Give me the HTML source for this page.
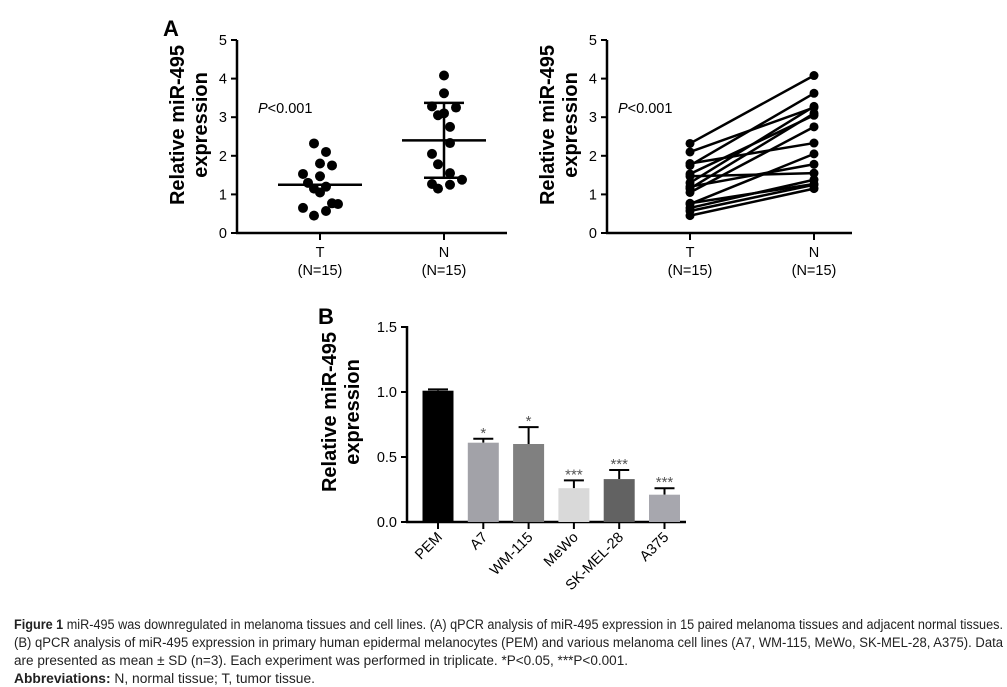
<!DOCTYPE html>
<html><head><meta charset="utf-8"><style>
html,body{margin:0;padding:0;background:#fff;}
svg{display:block;font-family:"Liberation Sans",sans-serif;}
</style></head><body>
<svg id="fig" width="1007" height="687" viewBox="0 0 1007 687"></svg>
<script>
const tVals=[2.32,2.1,1.8,1.75,1.53,1.47,1.3,1.2,1.15,1.05,0.77,0.75,0.65,0.57,0.45];
const nVals=[4.08,3.62,3.28,3.25,3.05,3.1,2.75,2.33,2.05,1.78,1.55,1.38,1.27,1.25,1.15];
const tJit=[-6,6,0,12,-17,0,-12,6,-6,0,12,18,-17,6,-6];
const nJit=[0,0,-12,12,-6,0,6,6,-12,-6,6,18,-12,6,-6];
const tMean=1.25, nMean=2.4, nSdLo=1.43, nSdHi=3.37;
const pairN=[4.08,3.25,2.33,3.62,3.05,1.55,3.28,1.78,3.1,2.75,1.27,2.05,1.38,1.25,1.15];
const yTicksA=[0,1,2,3,4,5];
const cells=["PEM","A7","WM-115","MeWo","SK-MEL-28","A375"];
const means=[1.01,0.61,0.60,0.26,0.33,0.21];
const errs=[0.01,0.03,0.13,0.06,0.07,0.05];
const stars=["","*","*","***","***","***"];
const colors=["#000000","#a2a2a8","#808080","#d9d9d9","#626262","#a7a7ae"];
const yTicksB=[0,0.5,1.0,1.5];

const svg=document.getElementById('fig');const NS='http://www.w3.org/2000/svg';
function mk(tag,attrs,name,text){const e=document.createElementNS(NS,tag);for(const k in attrs)e.setAttribute(k,attrs[k]);


if(text!==undefined)e.textContent=text;svg.appendChild(e);return e;}

function axesA(x0,x1,tx,nx,titleX,pX){
 const yA=v=>233-v*38.6;
 mk('line',{x1:x0,y1:40,x2:x0,y2:234,stroke:'#000','stroke-width':2.5},'y-axis');
 mk('line',{x1:x0-1,y1:233,x2:x1,y2:233,stroke:'#000','stroke-width':2.5},'x-axis');
 yTicksA.forEach(v=>{mk('line',{x1:x0-6,y1:yA(v),x2:x0,y2:yA(v),stroke:'#000','stroke-width':2},'y-tick');
  mk('text',{x:x0-10,y:yA(v)+5,'font-size':14.5,'text-anchor':'end'},'y-tick-label',v);});
 [[tx,'T'],[nx,'N']].forEach(([x,l])=>{mk('line',{x1:x,y1:233,x2:x,y2:240,stroke:'#000','stroke-width':2},'x-tick');
  mk('text',{x:x,y:257,'font-size':14.5,'text-anchor':'middle'},'x-tick-label',l);
  mk('text',{x:x,y:275,'font-size':14.5,'text-anchor':'middle'},'x-group-size','(N=15)');});
 mk('text',{x:0,y:0,'font-size':20,'font-weight':'bold','text-anchor':'middle',transform:`translate(${titleX},125) rotate(-90)`},'y-axis-title','Relative miR-495');
 mk('text',{x:0,y:0,'font-size':20,'font-weight':'bold','text-anchor':'middle',transform:`translate(${titleX+23},125) rotate(-90)`},'y-axis-title-2','expression');
 const p=mk('text',{x:pX,y:113,'font-size':14.5},'p-value','');
 const i=document.createElementNS(NS,'tspan');i.setAttribute('font-style','italic');i.textContent='P';p.appendChild(i);p.appendChild(document.createTextNode('<0.001'));
 return yA;
}
mk('text',{x:163,y:36,'font-size':22,'font-weight':'bold'},'panel-label-a','A');
let y=axesA(237,507,320,444,184,258);
tVals.forEach((v,i)=>mk('circle',{cx:320+tJit[i],cy:y(v),r:5},'dot-t'));
nVals.forEach((v,i)=>mk('circle',{cx:444+nJit[i],cy:y(v),r:5},'dot-n'));
mk('line',{x1:278,x2:362,y1:y(tMean),y2:y(tMean),stroke:'#000','stroke-width':2.5},'mean-t');
mk('line',{x1:402,x2:486,y1:y(nMean),y2:y(nMean),stroke:'#000','stroke-width':2.5},'mean-n');
mk('line',{x1:444,x2:444,y1:y(nSdLo),y2:y(nSdHi),stroke:'#000','stroke-width':2.5},'sd-n');
mk('line',{x1:424,x2:464,y1:y(nSdLo),y2:y(nSdLo),stroke:'#000','stroke-width':2.5},'sd-n-low');
mk('line',{x1:424,x2:464,y1:y(nSdHi),y2:y(nSdHi),stroke:'#000','stroke-width':2.5},'sd-n-high');

y=axesA(607,852,690,814,554,618);
tVals.forEach((v,i)=>{mk('line',{x1:690,y1:y(v),x2:814,y2:y(pairN[i]),stroke:'#000','stroke-width':2.5},'pair-line');
 mk('circle',{cx:690,cy:y(v),r:4.5},'pair-dot-t');mk('circle',{cx:814,cy:y(pairN[i]),r:4.5},'pair-dot-n');});

// Panel B
mk('text',{x:318,y:324,'font-size':22,'font-weight':'bold'},'panel-label-b','B');
const yB=v=>522-v*130;const xB=i=>438+i*45.3;
mk('line',{x1:407,y1:326,x2:407,y2:523,stroke:'#000','stroke-width':2.5},'b-y-axis');
mk('line',{x1:406,y1:522,x2:686,y2:522,stroke:'#000','stroke-width':2.5},'b-x-axis');
yTicksB.forEach(v=>{mk('line',{x1:401,x2:407,y1:yB(v),y2:yB(v),stroke:'#000','stroke-width':2},'b-y-tick');
 mk('text',{x:397,y:yB(v)+5,'font-size':14.5,'text-anchor':'end'},'b-y-tick-label',v.toFixed(1));});
mk('text',{x:0,y:0,'font-size':20,'font-weight':'bold','text-anchor':'middle',transform:'translate(336,412) rotate(-90)'},'b-y-axis-title','Relative miR-495');
mk('text',{x:0,y:0,'font-size':20,'font-weight':'bold','text-anchor':'middle',transform:'translate(359,412) rotate(-90)'},'b-y-axis-title-2','expression');
cells.forEach((c,i)=>{const x=xB(i);
 mk('line',{x1:x,x2:x,y1:yB(means[i]),y2:yB(means[i]+errs[i]),stroke:'#000','stroke-width':2},'error-bar');
 mk('line',{x1:x-10,x2:x+10,y1:yB(means[i]+errs[i]),y2:yB(means[i]+errs[i]),stroke:'#000','stroke-width':2},'error-cap');
 mk('rect',{x:x-15.5,y:yB(means[i]),width:31,height:yB(0)-yB(means[i]),fill:colors[i]},'bar-'+c.toLowerCase());
 if(stars[i])mk('text',{x:x,y:yB(means[i]+errs[i])-1,'font-size':15,'text-anchor':'middle',fill:'#555'},'significance',stars[i]);
 mk('line',{x1:x,x2:x,y1:522,y2:529,stroke:'#000','stroke-width':2},'b-x-tick');
 mk('text',{x:0,y:0,'font-size':14.5,'text-anchor':'end',transform:`translate(${x+5},538) rotate(-45)`},'b-x-tick-label',c);
});

// Caption
const cap=[["Figure 1"," miR-495 was downregulated in melanoma tissues and cell lines. (A) qPCR analysis of miR-495 expression in 15 paired melanoma tissues and adjacent normal tissues.",989],
["","(B) qPCR analysis of miR-495 expression in primary human epidermal melanocytes (PEM) and various melanoma cell lines (A7, WM-115, MeWo, SK-MEL-28, A375). Data",989],
["","are presented as mean ± SD (n=3). Each experiment was performed in triplicate. *P<0.05, ***P<0.001.",614],
["Abbreviations:"," N, normal tissue; T, tumor tissue.",301]];
cap.forEach((l,i)=>{const t=mk('text',{x:14,y:629+i*18,'font-size':13.5,fill:'#222',textLength:l[2],lengthAdjust:'spacingAndGlyphs'},'caption-line-'+(i+1),'');
 if(l[0]){const b=document.createElementNS(NS,'tspan');b.setAttribute('font-weight','bold');b.textContent=l[0];t.appendChild(b);}
 t.appendChild(document.createTextNode(l[1]));});
</script>
</body></html>
